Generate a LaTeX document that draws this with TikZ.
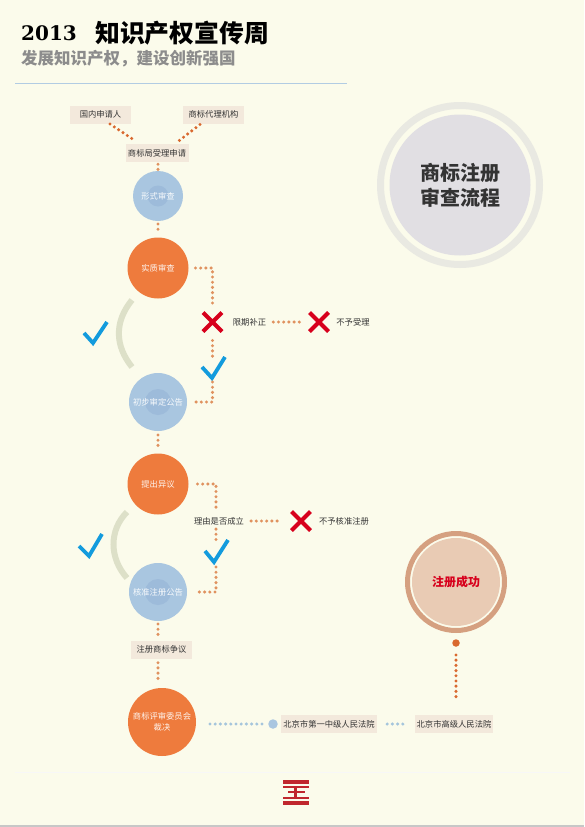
\documentclass[tikz,border=0pt]{standalone}
\usepackage{fontspec}
\setmainfont{Noto Sans CJK SC}
\newfontfamily\latinserif{DejaVu Serif}
\usetikzlibrary{shapes.misc,calc}
\definecolor{bgc}{HTML}{FBFBEB}
\definecolor{boxc}{HTML}{F3E9DC}
\definecolor{blueC}{HTML}{A9C6E0}
\definecolor{blueIn}{HTML}{9DBBDA}
\definecolor{orangeC}{HTML}{EE7B3D}
\definecolor{dotc}{HTML}{E0925F}
\definecolor{dotd}{HTML}{D9692F}
\definecolor{dotb}{HTML}{A5C5DC}
\definecolor{crossc}{HTML}{D7001C}
\definecolor{checkc}{HTML}{139BDD}
\definecolor{arcc}{HTML}{DDE0C8}
\definecolor{txtc}{HTML}{333333}
\definecolor{mainfill}{HTML}{E1DFE3}
\definecolor{mainring}{HTML}{E9E9E2}
\definecolor{succring}{HTML}{D5A080}
\definecolor{succfill}{HTML}{E9CBB4}
\definecolor{logoc}{HTML}{C0272D}
\tikzset{
  x=1pt,y=-1pt,
  lbl/.style={font=\fontsize{8.3}{10}\selectfont,text=txtc,inner sep=0pt},
  boxn/.style={lbl,fill=boxc,minimum height=18pt},
  blue node/.style={circle,fill=blueC,minimum size=#1,inner sep=0pt,outer sep=0pt,font=\fontsize{8.3}{10}\selectfont,text=white!92!blueC},
  inner disc/.style={path picture={\fill[blueIn] (path picture bounding box.center) circle (#1);}},
  orange node/.style={circle,fill=orangeC,minimum size=#1,inner sep=0pt,outer sep=0pt,font=\fontsize{8.3}{10.5}\selectfont,text=white!92!orangeC,align=center},
  dots/.style={draw=dotc,line width=3.4pt,line cap=round,dash pattern=on 0pt off 5.2pt},
  darkdots/.style={dots,draw=dotd},
  bluedots/.style={dots,draw=dotb},
  xmark/.style={cross out,draw=crossc,line width=4.2pt,minimum size=19pt,inner sep=0pt,outer sep=0pt},
  chk/.style={draw=checkc,line width=3.8pt,line join=miter},
  arcs/.style={draw=arcc,line width=6pt},
}
\begin{document}
\begin{tikzpicture}
\useasboundingbox (0,0) rectangle (584,827);
\fill[bgc] (0,0) rectangle (584,827);
\fill[black!22] (0,825) rectangle (584,827);
% title
\node[anchor=west,inner sep=0pt,text=black] (title) at (21,33.5) {\fontsize{20}{24}\selectfont\latinserif\bfseries 2013};
\node[anchor=west,inner sep=0pt,text=black] (titlecn) at (95,33) {\fontsize{24.8}{26}\selectfont\bfseries 知识产权宣传周};
\node[anchor=west,inner sep=0pt,text=black!45] (subt) at (21,58.5) {\fontsize{16.5}{18}\selectfont\bfseries 发展知识产权，建设创新强国};
\draw[draw=blueC!90!white,line width=1.5pt] (15,83.5) -- (347,83.5);
\draw[draw=black!3,line width=.8pt] (15,772) -- (570,772);
% title circle
\node[circle,draw=mainring,line width=7pt,minimum size=159pt,inner sep=0pt] (ring1) at (460,185) {};
\node[circle,fill=mainfill,minimum size=141pt,inner sep=0pt,align=center,text=txtc,font=\fontsize{20}{25}\selectfont\bfseries] (main) at (460,185) {商标注册\\审查流程};
% boxes
\node[boxn,minimum width=61pt] (app) at (100.5,114.5) {国内申请人};
\node[boxn,minimum width=61pt] (agent) at (213.5,114.5) {商标代理机构};
\node[boxn,minimum width=63pt] (recv) at (157,153) {商标局受理申请};
\node[boxn,minimum width=61pt] (disp) at (161.5,649.5) {注册商标争议};
\node[boxn,minimum width=96pt] (court1) at (329,724) {北京市第一中级人民法院};
\node[boxn,minimum width=78pt] (court2) at (454,724) {北京市高级人民法院};
% circles
\node[blue node=50pt,inner disc=10.5] (form) at (158,196) {形式审查};
\node[orange node=61pt] (subst) at (158,268) {实质审查};
\node[blue node=58pt,inner disc=13] (prelim) at (158,402) {初步审定公告};
\node[orange node=61pt] (oppo) at (158,484) {提出异议};
\node[blue node=58pt,inner disc=13] (approv) at (158,592) {核准注册公告};
\node[orange node=68pt] (board) at (162,722) {商标评审委员会\\裁决};
% success circle
\node[circle,draw=succring,line width=5pt,minimum size=97pt,inner sep=0pt] (ring2) at (456,582) {};
\node[circle,fill=succfill,minimum size=88pt,inner sep=0pt,text=crossc,font=\fontsize{12}{14}\selectfont\bfseries] (succ) at (456,582) {注册成功};
\node[circle,fill=dotd,minimum size=7.5pt,inner sep=0pt] (sdot) at (456,643) {};
\node[circle,fill=blueC,minimum size=9.5pt,inner sep=0pt] (bdot) at (273,724) {};
% crosses and labels
\node[xmark] (x1) at (212.5,322) {};
\node[xmark] (x2) at (319,322) {};
\node[xmark] (x3) at (301,521) {};
\node[lbl] (fix) at (249.5,322) {限期补正};
\node[lbl] (rej) at (353,322) {不予受理};
\node[lbl] (reason) at (219,521) {理由是否成立};
\node[lbl] (rej2) at (344,521.5) {不予核准注册};
% ticks
\draw[chk] (84,333) -- (93,343) -- (107,322);
\draw[chk] (79,546) -- (89,556) -- (102,534);
\draw[chk] (202,367) -- (212,378) -- (225,357);
\draw[chk] (205,551) -- (214,562) -- (228,540);
\coordinate (c1) at (212.5,367);
\coordinate (c2) at (216,552);
% arcs
\draw[arcs] (132,300) .. controls (114,322) and (115,346) .. (132,367);
\draw[arcs] (127,512) .. controls (109,530) and (109,558) .. (127,578);
% connectors
\coordinate (a1) at (110,124);
\coordinate (a2) at (200,124.5);
\coordinate (e1) at (134,140);
\coordinate (e2) at (178,141.5);
\draw[darkdots] (a1) -- (e1);
\draw[darkdots] (a2) -- (e2);
\draw[dots] (recv.south) ++(1,2) -- ($(form.north)+(0,-0.5)$);
\draw[dots] (form.south) ++(0,3) -- ($(subst.north)+(0,-6)$);
\draw[dots,shorten <=7pt,shorten >=8.5pt] (subst.east) -| (x1.north);
\draw[dots,shorten <=9pt] (x1.south) -- ($(c1)+(0,-9)$);
\draw[dots,shorten >=7pt] ($(c1)+(0,15)$) |- (prelim.east);
\draw[dots,shorten <=7pt,shorten >=7.5pt] (fix.east) -- (x2.west);
\draw[dots] (prelim.south) ++(0,4) -- ($(oppo.north)+(0,-3)$);
\draw[dots,shorten <=9pt] (oppo.east) -| ($(reason.north)+(-3,-5)$);
\draw[dots] (reason.south) ++(-3,4) -- ($(c2)+(0,-9)$);
\draw[dots,shorten >=8pt] ($(c2)+(0,15)$) |- (approv.east);
\draw[dots,shorten <=7pt,shorten >=10pt] (reason.east) -- (x3.west);
\draw[dots] (approv.south) ++(0,3) -- ($(disp.north)+(-3.5,-4)$);
\draw[dots] (disp.south) ++(-3.5,4) -- ($(board.north)+(-4,-7)$);
\draw[bluedots,shorten <=14pt] (board.east) ++(0,2) -- ($(bdot.west)+(-6,0)$);
\draw[bluedots,shorten <=10pt,shorten >=10pt] (court1.east) -- (court2.west);
\draw[darkdots] (sdot.south) ++(0,8) -- ($(court2.north)+(2,-16)$);
% logo
\foreach \yy/\hh in {780/3.5,786/2,796.5/2,801/4}{\fill[logoc] (283,\yy) rectangle (309,\yy+\hh);}
\fill[logoc] (288,791) rectangle (305,793);
\fill[logoc] (294,788) rectangle (297,796.5);
\end{tikzpicture}
\end{document}
